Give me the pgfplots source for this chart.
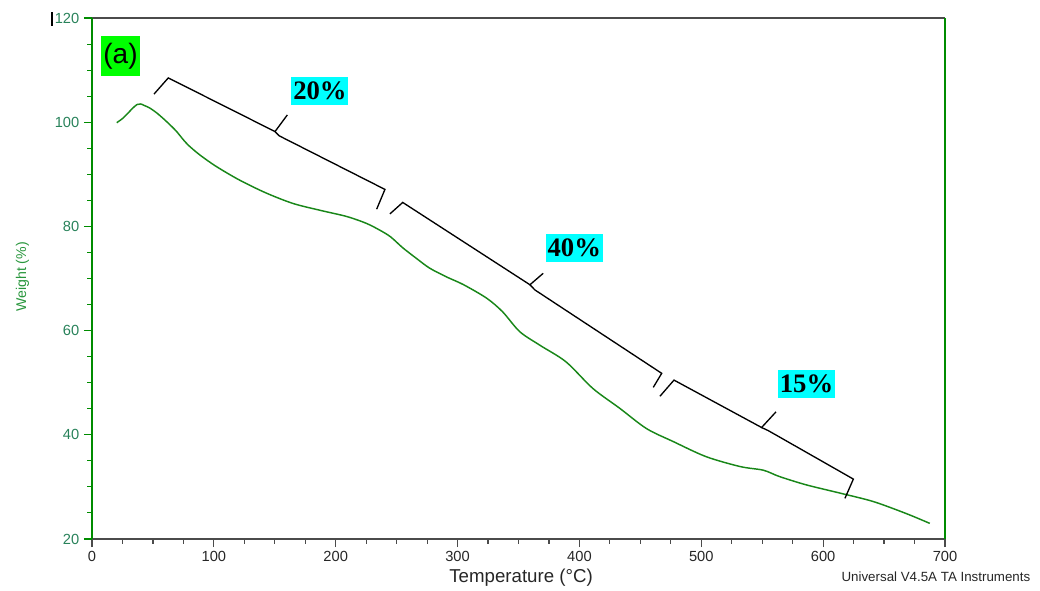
\documentclass[border=0pt]{standalone}
\usepackage{pgfplots}
\pgfplotsset{compat=1.18}
\usepackage{fontspec}
\setmainfont{Liberation Sans}
\newfontfamily\timesfont{Liberation Serif}
\definecolor{curve}{RGB}{25,135,25}
\definecolor{axgreen}{RGB}{0,140,0}
\definecolor{ticklab}{RGB}{40,130,90}
\definecolor{ylab}{RGB}{40,150,60}
\definecolor{axgrey}{RGB}{75,75,75}
\definecolor{labbox}{RGB}{0,255,0}
\definecolor{pctbox}{RGB}{0,255,255}

\pgfplotstableread{
x y
20.3 99.9
25 100.7
29 101.6
33 102.6
37 103.4
40 103.5
43 103.2
47.6 102.7
53 101.8
58.5 100.7
64 99.5
69.5 98.2
74 96.9
79 95.6
88.6 93.7
102 91.5
121 88.9
143 86.4
165 84.4
187 83.1
209 81.9
225 80.6
236 79.3
245 78.0
255 75.9
266 73.9
277 72.0
291 70.3
305 68.8
324 66.2
337 63.6
351 59.8
367.5 57.2
389 54.0
411 48.9
433 45.1
455 41.2
477 38.7
504 35.8
532 33.9
551 33.2
564 32.0
586 30.4
614 28.8
641 27.2
668 24.9
687.5 23.0
}\tgadata

\begin{document}
\begin{tikzpicture}
\path[use as bounding box] (-69pt,-38.25pt) rectangle (711pt,404.25pt);
\begin{axis}[
  at={(0,0)}, anchor=south west,
  width=639.75pt, height=390.75pt, scale only axis,
  xmin=0, xmax=700, ymin=20, ymax=120,
  xtick={0,100,...,700}, ytick={20,40,...,120},
  minor xtick={25,50,...,675}, minor ytick={25,30,...,115},
  separate axis lines,
  x axis line style={axgrey, line width=1.1pt},
  y axis line style={axgreen, line width=1pt},
  xtick pos=bottom, ytick pos=left,
  tick align=outside,
  major tick length=6pt, minor tick length=3.5pt,
  x tick style={axgrey, line width=0.9pt},
  y tick style={axgreen, line width=0.8pt},
  /pgf/number format/assume math mode=true,
  x tick label style={black!85, font=\fontsize{11}{13}\selectfont},
  y tick label style={ticklab, font=\fontsize{11}{13}\selectfont},
  clip=false,
]
\addplot[curve, line width=1.1pt, smooth] table[x=x,y=y] {\tgadata};

% braces
\draw[black, line width=1pt] (50.9,105.4) -- (62.6,108.5) -- (150.2,98.2) -- (160.3,101.4);
\draw[black, line width=1pt] (150.2,98.2) -- (153.5,97.4) -- (240.4,87.1) -- (233.6,83.3);
\draw[black, line width=1pt] (244.5,82.4) -- (255.0,84.6) -- (359.4,68.8) -- (370.3,71.0);
\draw[black, line width=1pt] (359.4,68.8) -- (363.5,67.8) -- (467.5,51.8) -- (460.6,49.1);
\draw[black, line width=1pt] (466.1,47.4) -- (477.6,50.5) -- (549.5,41.4) -- (561.3,44.4);
\draw[black, line width=1pt] (549.5,41.4) -- (555.0,40.8) -- (624.8,31.5) -- (617.9,27.8);

\node[fill=pctbox, inner sep=1pt, minimum width=42.75pt, minimum height=21pt, font=\timesfont\bfseries\fontsize{20}{22}\selectfont] at (187.1,106.0) {20\%};
\node[fill=pctbox, inner sep=1pt, minimum width=42.75pt, minimum height=21pt, font=\timesfont\bfseries\fontsize{20}{22}\selectfont] at (395.8,75.8) {40\%};
\node[fill=pctbox, inner sep=1pt, minimum width=42.75pt, minimum height=21pt, font=\timesfont\bfseries\fontsize{20}{22}\selectfont] at (586.4,49.7) {15\%};

\node[fill=labbox, inner sep=1pt, minimum width=29.25pt, minimum height=30pt, font=\fontsize{21}{23}\selectfont] at (23.4,112.7) {(a)};

\node[font=\fontsize{14}{16}\selectfont, black!85] at (rel axis cs:0.503,-0.0749) {Temperature (°C)};
\node[font=\fontsize{10.6}{12}\selectfont, ylab, rotate=90] at (rel axis cs:-0.0815,0.503) {Weight (\%)};
\node[font=\fontsize{10}{12}\selectfont, black!85, anchor=east] at (rel axis cs:1.1055,-0.073) {Universal V4.5A TA Instruments};
\draw[black, line width=0.8pt] (rel axis cs:-0.0469,1.0115) -- (rel axis cs:-0.0469,0.9846);
\end{axis}
\end{tikzpicture}
\end{document}
